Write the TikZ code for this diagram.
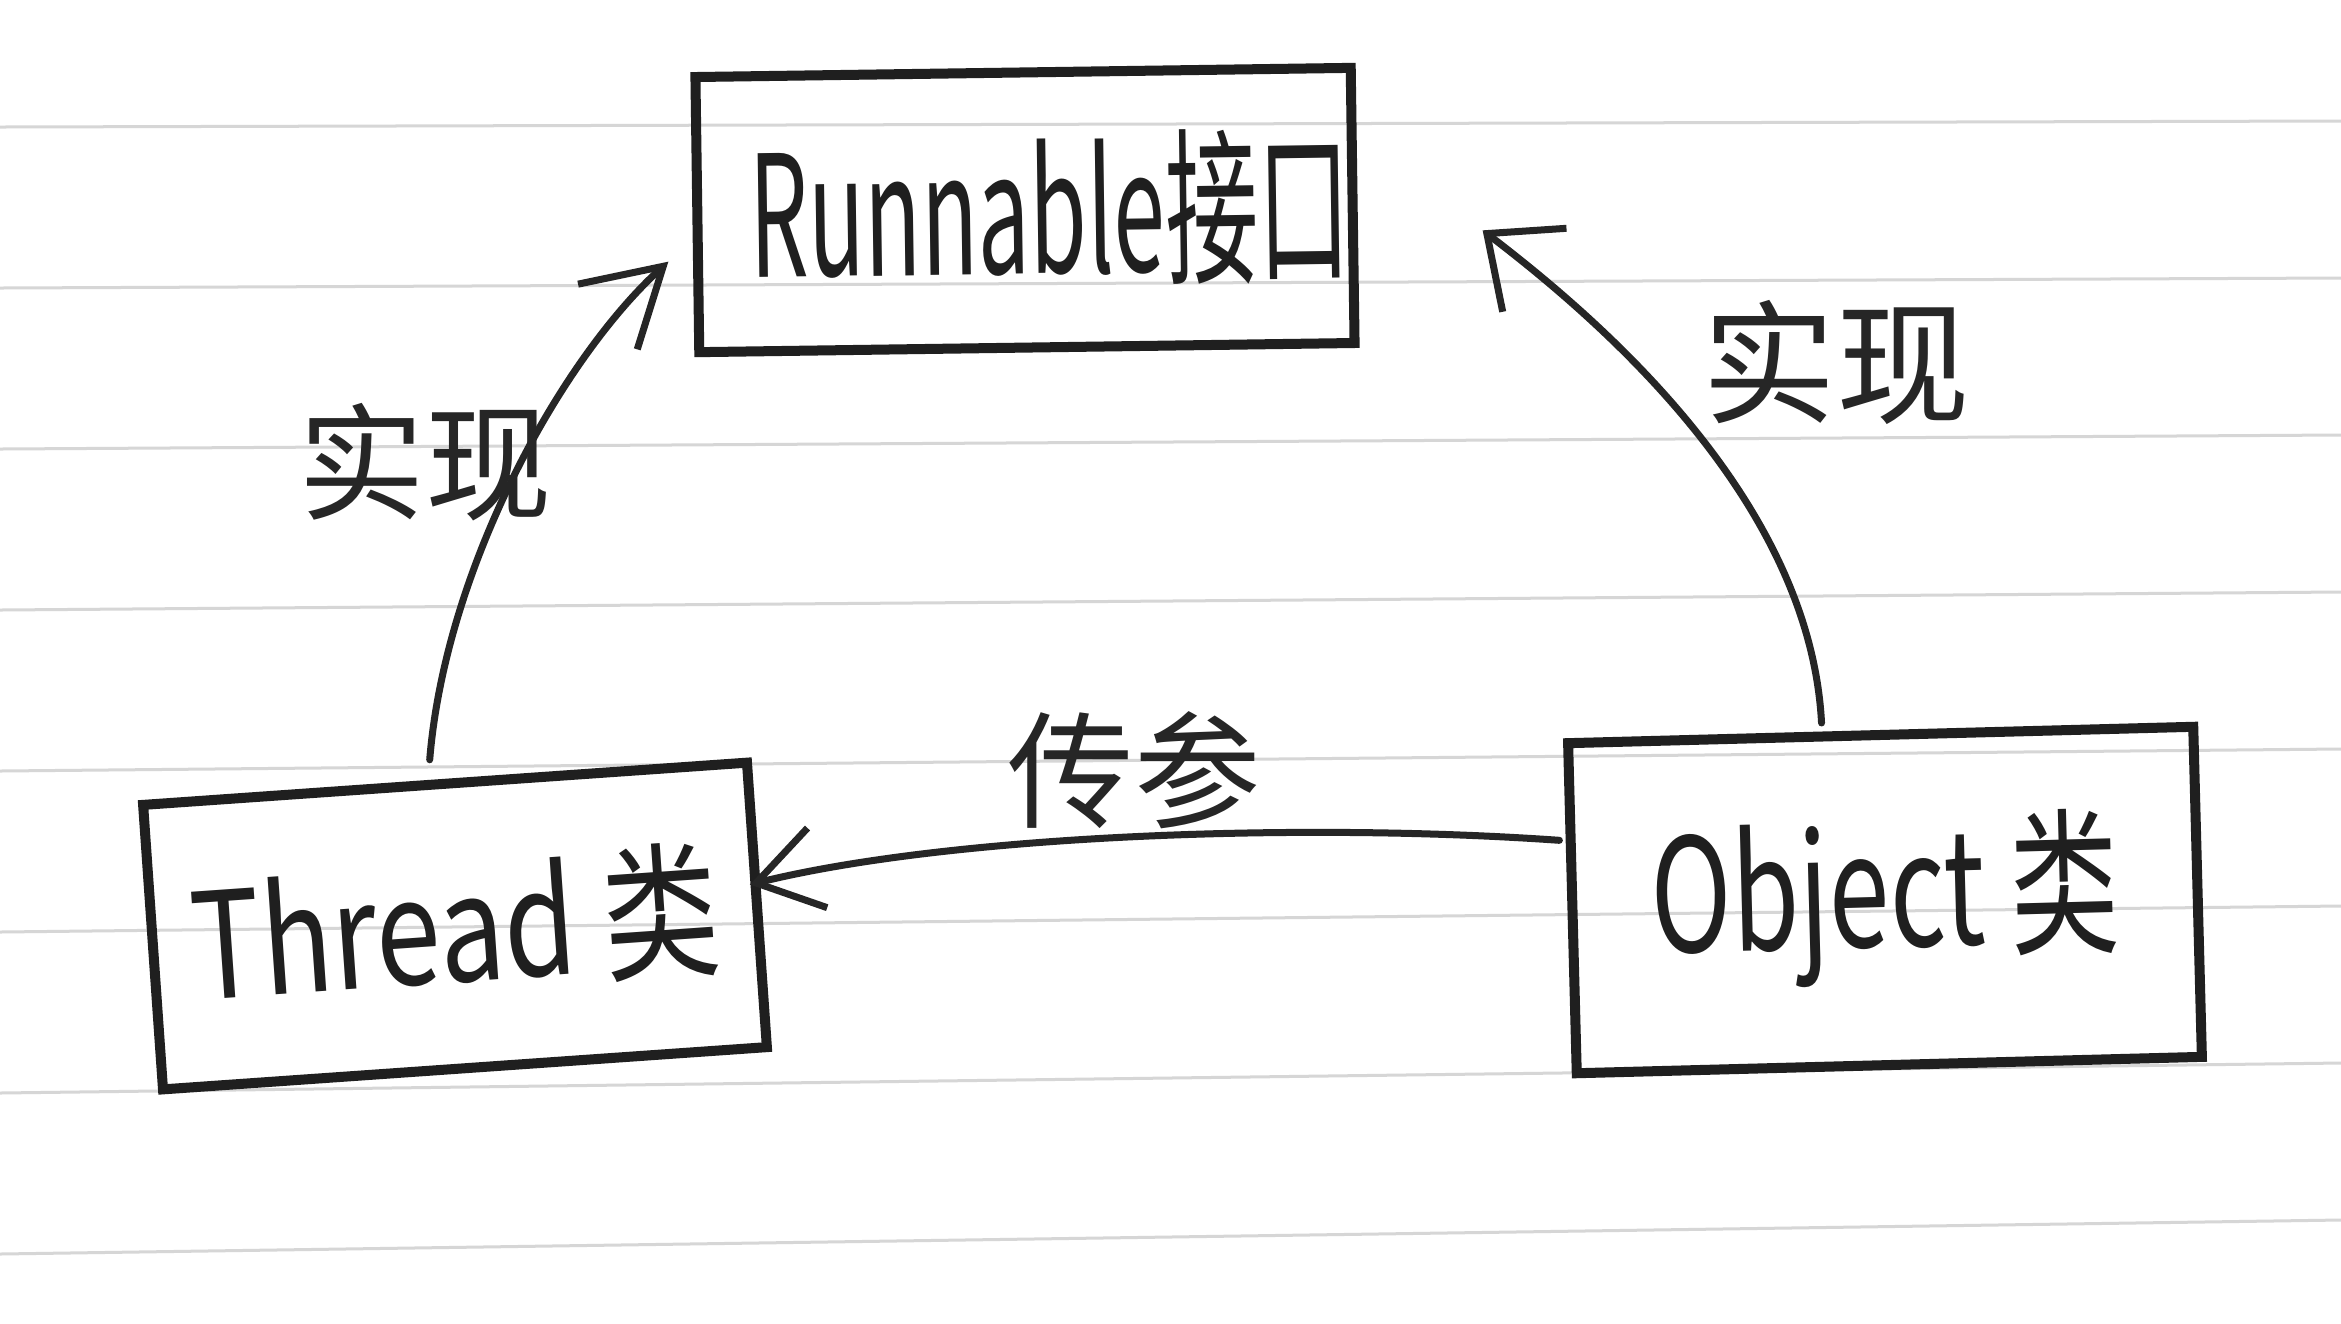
\documentclass[tikz,border=0pt]{standalone}
\usepackage{fontspec}
\setmainfont{Noto Sans CJK SC}
\usetikzlibrary{arrows.meta}
\tikzset{
  ruled/.style={draw=black!16, line width=0.3mm},
  box/.style={draw=black!88, line width=1.0mm, inner sep=0pt, text=black!88},
  cjklabel/.style={inner sep=0pt, text=black!85},
  handarrow/.style n args={2}{draw=black!85, line width=0.7mm, line cap=round,
    -{Straight Barb[length=#1,width=#2]}}
}
\begin{document}
\begin{tikzpicture}[x=0.01cm,y=-0.01cm]
  \fill[white] (0,0) rectangle (2341,1323);
  \useasboundingbox (0,0) rectangle (2341,1323);
  % ruled paper lines
  \foreach \k in {0,...,7} {
    \draw[ruled] (0,{127+161*\k}) -- (2341,{121+157*\k});
  }
  % boxes
  \node[box, minimum width=6.55cm, minimum height=2.75cm, rotate=0.8] (runnable) at (1025,210)
    {\hspace*{5mm}\scalebox{0.55}[1]{\fontsize{48}{50}\selectfont Runnable接口}};
  \node[box, minimum width=6.05cm, minimum height=2.85cm, rotate=4] (thread) at (455,926)
    {\scalebox{0.79}[1]{\fontsize{42}{44}\selectfont Thread 类}};
  \node[box, minimum width=6.25cm, minimum height=3.3cm, rotate=1.5] (object) at (1885,900)
    {\scalebox{0.69}[1]{\fontsize{45}{47}\selectfont Object 类}};
  % labels
  \node[cjklabel, font=\fontsize{36}{40}\selectfont] (implA) at (425,462) {实现};
  \node[cjklabel, font=\fontsize{38}{42}\selectfont] (implB) at (1836,362) {实现};
  \node[cjklabel, font=\fontsize{36}{40}\selectfont] (param) at (1134,770) {传参};
  % connectors
  \draw[handarrow={7.5mm}{8.8mm}] ([shift={(-15,-19)}]thread.north)
    .. controls (445,570) and (560,360) .. ([shift={(-24,47)}]runnable.west);
  \draw[handarrow={6mm}{10.5mm}] ([shift={(-59,-7)}]object.north)
    .. controls (1810,500) and (1600,320) .. ([shift={(125,25)}]runnable.east);
  \draw[handarrow={6.3mm}{8.2mm}] ([shift={(-8,-68)}]object.west)
    .. controls (1300,822) and (950,835) .. ([shift={(-12,-20)}]thread.east);
\end{tikzpicture}
\end{document}
